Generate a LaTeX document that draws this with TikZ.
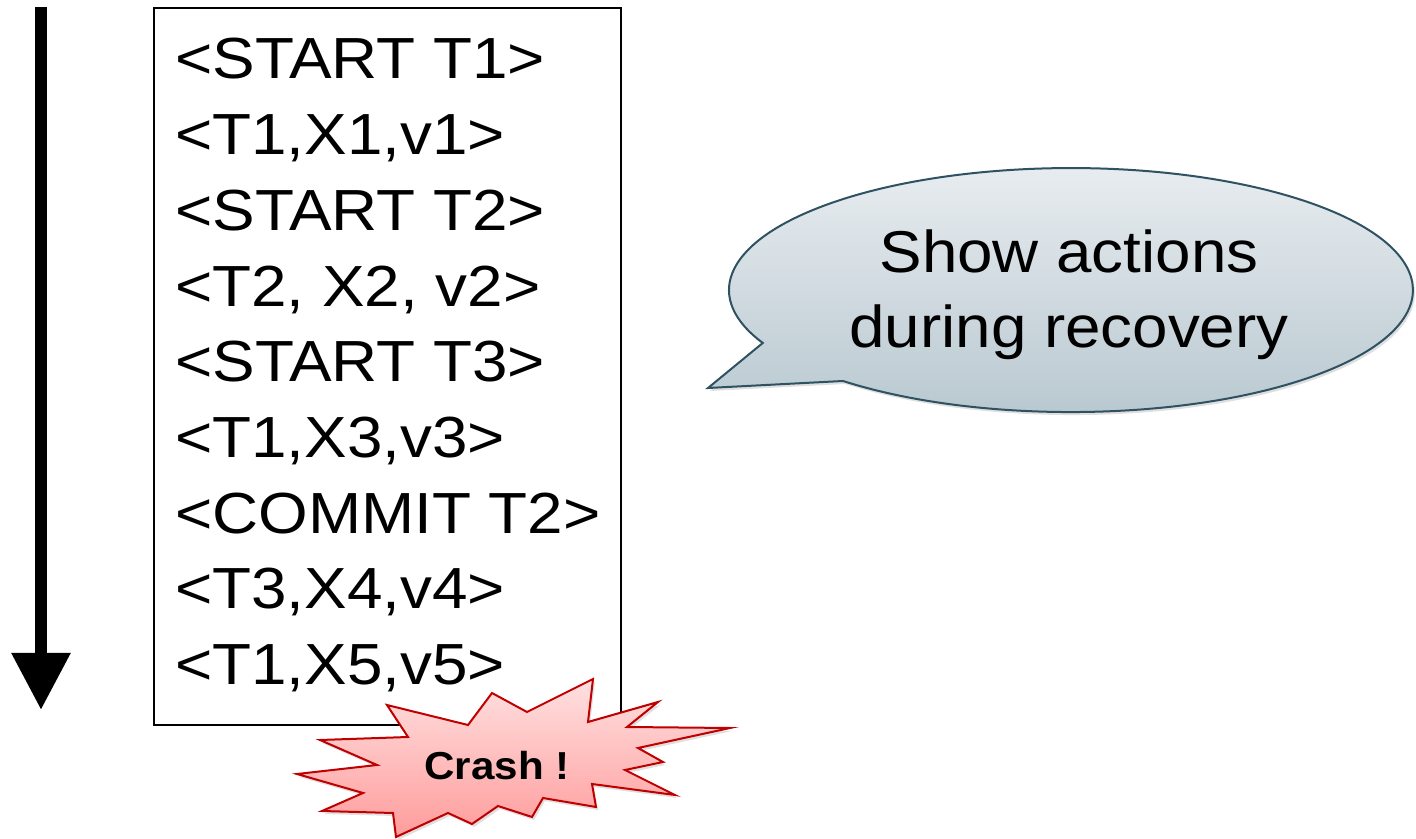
\documentclass[tikz,border=0pt]{standalone}
\usepackage{fontspec}
\setmainfont{Liberation Sans}
\newfontfamily\widefont[FakeStretch=1.08]{Liberation Sans}
\newfontfamily\logfont[FakeStretch=1.1]{Liberation Sans}
\usetikzlibrary{arrows.meta,shadows}
\definecolor{bubtop}{HTML}{EAEEF1}
\definecolor{bubbot}{HTML}{B7C7CF}
\definecolor{bubedge}{HTML}{2F5262}
\definecolor{crtop}{HTML}{FFE0E0}
\definecolor{crbot}{HTML}{FF9C9C}
\definecolor{credge}{HTML}{C00000}
\begin{document}
\begin{tikzpicture}[x=1pt,y=1pt,
  logline/.style={anchor=base west, inner sep=0pt, font=\logfont\fontsize{58}{62}\selectfont},
  notetext/.style={anchor=base, inner sep=0pt, font=\widefont\fontsize{59}{63}\selectfont},
  crashtext/.style={anchor=base, inner sep=0pt, font=\widefont\bfseries\fontsize{39}{42}\selectfont},
  myshadow/.style={drop shadow={opacity=0.25, shadow xshift=2pt, shadow yshift=-3pt}}]
\useasboundingbox (0,0) rectangle (1416,838);
% timeline arrow
\coordinate (tstart) at (41,831);
\coordinate (tend) at (41,128);
\draw[line width=12pt, -{Triangle[length=57pt,width=56pt]}] (tstart) -- (tend);
% log box
\node[draw, line width=1.8pt, minimum width=467pt, minimum height=717pt, anchor=north west, inner sep=0pt] (logbox) at (153,831) {};
\foreach \t [count=\i from 0] in {{<START T1>},{<T1,X1,v1>},{<START T2>},{<T2, X2, v2>},{<START T3>},{<T1,X3,v3>},{<COMMIT T2>},{<T3,X4,v4>},{<T1,X5,v5>}}
  \node[logline] (l\i) at (175,{759-75.7*\i}) {\t};
% speech bubble
\path[draw=bubedge, line width=2pt, top color=bubtop, bottom color=bubbot, myshadow]
  (843,457) arc[start angle=228.2, end angle=565.7, x radius=342, y radius=122] -- (708,450) -- cycle;
\node[notetext] (note1) at (1069,565) {Show actions};
\node[notetext] (note2) at (1069,490) {during recovery};
% crash starburst
\path[draw=credge, line width=2pt, top color=crtop, bottom color=crbot, myshadow]
  (387,133) -- (468,113) -- (492,145) -- (527,126) -- (593,159) -- (588,116) -- (658,136) -- (627,111)
  -- (730,110) -- (638,90) -- (663,76) -- (625,68) -- (675,43) -- (592,54) -- (596,31) -- (543,40)
  -- (532,21) -- (498,32) -- (472,14) -- (448,25) -- (396,1) -- (393,25) -- (322,27) -- (363,45)
  -- (297,64) -- (377,73) -- (320,98) -- (408,101) -- cycle;
\node[crashtext] (crash) at (497,58) {Crash !};
\end{tikzpicture}
\end{document}
